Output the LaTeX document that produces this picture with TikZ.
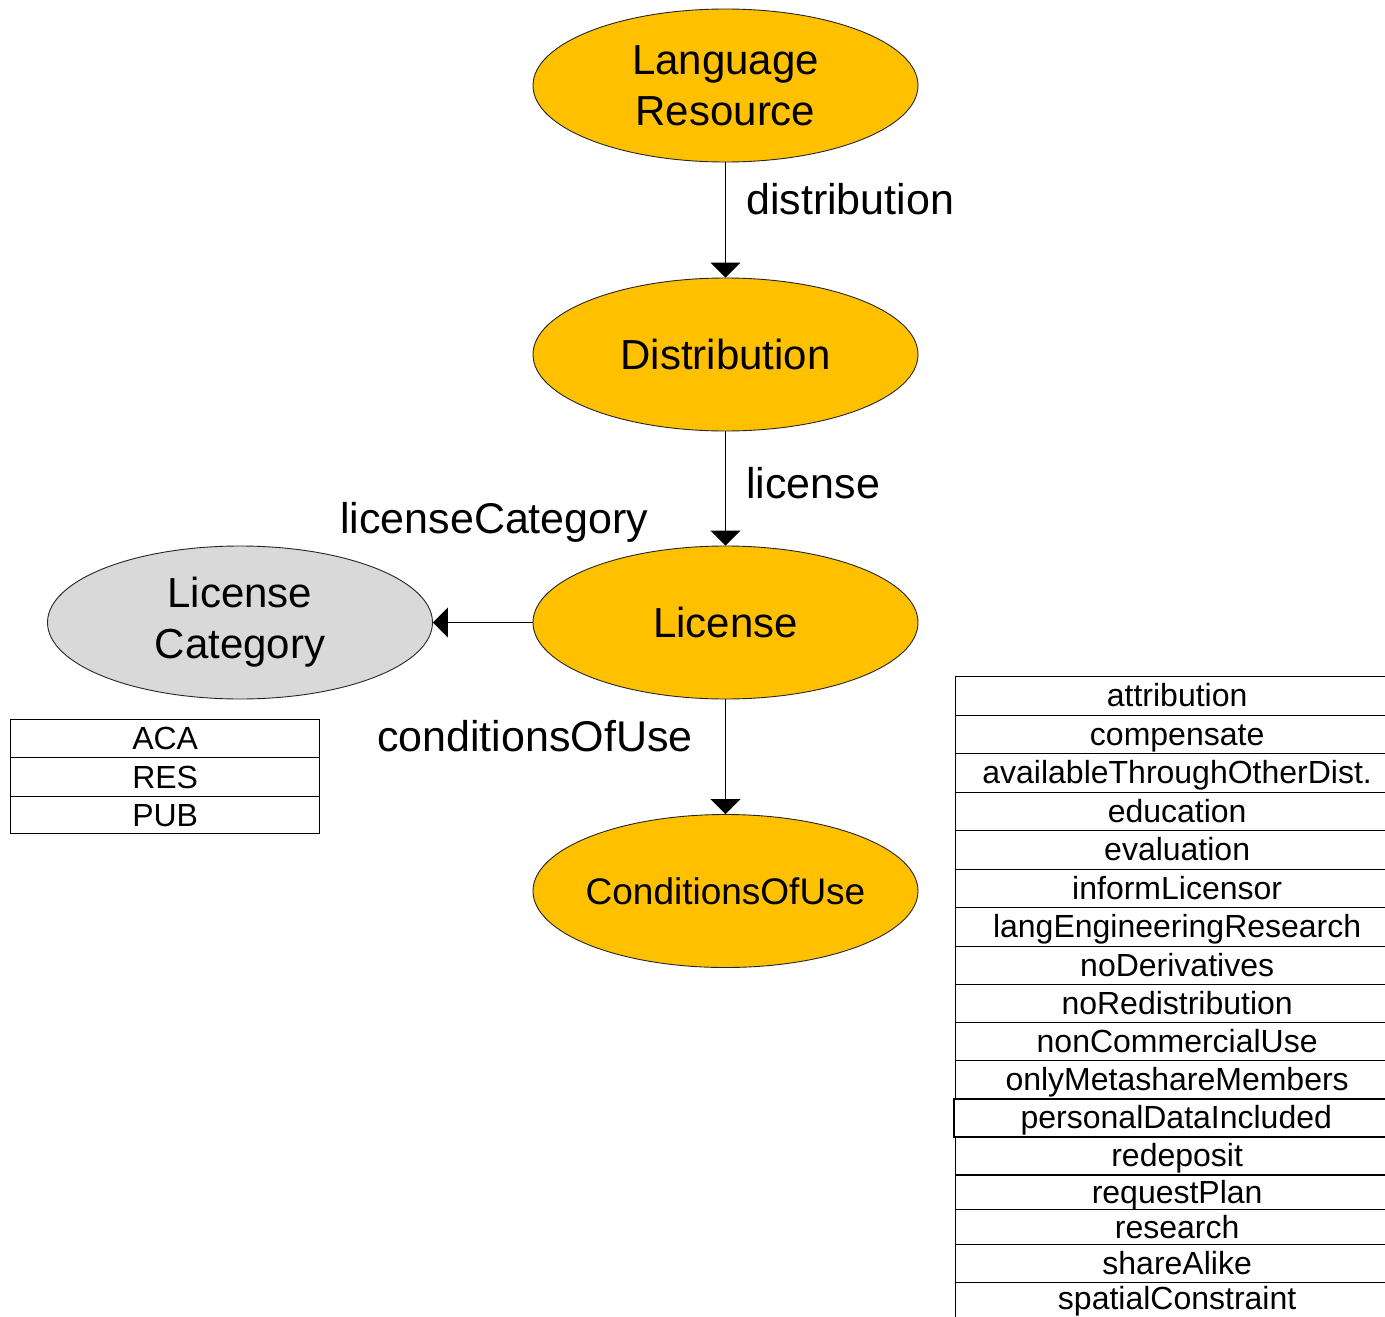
\documentclass[tikz,border=0pt]{standalone}
\usepackage{fontspec}
\setmainfont{Liberation Sans}
\usetikzlibrary{shapes.geometric,arrows.meta}
\definecolor{orgfill}{HTML}{FFC000}
\definecolor{grayfill}{HTML}{D9D9D9}
\tikzset{
  classell/.style={ellipse, draw=black!85, line width=0.9pt, fill=orgfill,
    minimum width=385pt, minimum height=153pt, inner sep=0pt, align=center,
    font=\fontsize{42}{51}\selectfont},
  catell/.style={classell, fill=grayfill},
  lbl/.style={font=\fontsize{43}{50}\selectfont, anchor=base west, inner sep=0pt},
  conn/.style={line width=1.1pt, -{Triangle[width=30pt,length=15pt]}},
  cell/.style={draw, line width=1.3pt, anchor=north west, inner sep=0pt,
    text height=22pt, text depth=0pt, font=\fontsize{32}{38}\selectfont},
  rcell/.style={cell, minimum width=443pt},
  lcell/.style={cell, minimum width=309pt}
}
\begin{document}
\begin{tikzpicture}[x=1pt,y=-1pt]
\useasboundingbox[fill=white] (0,0) rectangle (1385,1317);
% main nodes
\node[classell] (lr) at (725.5,85.5) {Language\\Resource};
\node[classell] (dist) at (725.5,354.5) {Distribution};
\node[classell] (lic) at (725.5,622.5) {License};
\node[classell, font=\fontsize{37}{44}\selectfont] (cou) at (725.5,891) {\makebox[240pt]{ConditionsOfUse}};
\node[catell] (lc) at (240,622.5) {License\\Category};
% connectors
\draw[conn] (lr) -- (dist);
\draw[conn] (dist) -- (lic);
\draw[conn] (lic) -- (cou);
\draw[conn] (lic) -- (lc);
% connector labels
\node[lbl] (ldist) at (746,214) {distribution};
\node[lbl] (llic) at (746,498) {license};
\node[lbl] (llc) at (340,533) {licenseCategory};
\node[lbl] (lcou) at (377,751) {conditionsOfUse};
% left table
\node[lcell, minimum height=38pt] (aca) at (10,719) {ACA};
\node[lcell, minimum height=39pt] (res) at (10,757) {RES};
\node[lcell, minimum height=37pt] (pub) at (10,796) {PUB};
% right table
\node[rcell, minimum height=38.5pt] (r1) at (955,676) {attribution};
\node[rcell, minimum height=38.5pt] (r2) at (955,714.5) {compensate};
\node[rcell, minimum height=38.5pt] (r3) at (955,753) {availableThroughOtherDist.};
\node[rcell, minimum height=38.5pt] (r4) at (955,791.5) {education};
\node[rcell, minimum height=38.5pt] (r5) at (955,830) {evaluation};
\node[rcell, minimum height=38.5pt] (r6) at (955,868.5) {informLicensor};
\node[rcell, minimum height=38.5pt] (r7) at (955,907) {langEngineeringResearch};
\node[rcell, minimum height=38.5pt] (r8) at (955,945.5) {noDerivatives};
\node[rcell, minimum height=38pt] (r9) at (955,984) {noRedistribution};
\node[rcell, minimum height=38pt] (r10) at (955,1022) {nonCommercialUse};
\node[rcell, minimum height=38pt] (r11) at (955,1060) {onlyMetashareMembers};
\node[rcell, minimum height=38pt] (r13) at (955,1136) {redeposit};
\node[rcell, minimum height=34pt] (r14) at (955,1175) {requestPlan};
\node[rcell, minimum height=35pt] (r15) at (955,1209) {research};
\node[rcell, minimum height=38pt] (r16) at (955,1244) {shareAlike};
\node[rcell, minimum height=39pt, text height=15pt] (r17) at (955,1282) {spatialConstraint};
\node[rcell, minimum width=445pt, minimum height=38pt, line width=1.6pt] (r12) at (953,1098) {personalDataIncluded};
\end{tikzpicture}
\end{document}
